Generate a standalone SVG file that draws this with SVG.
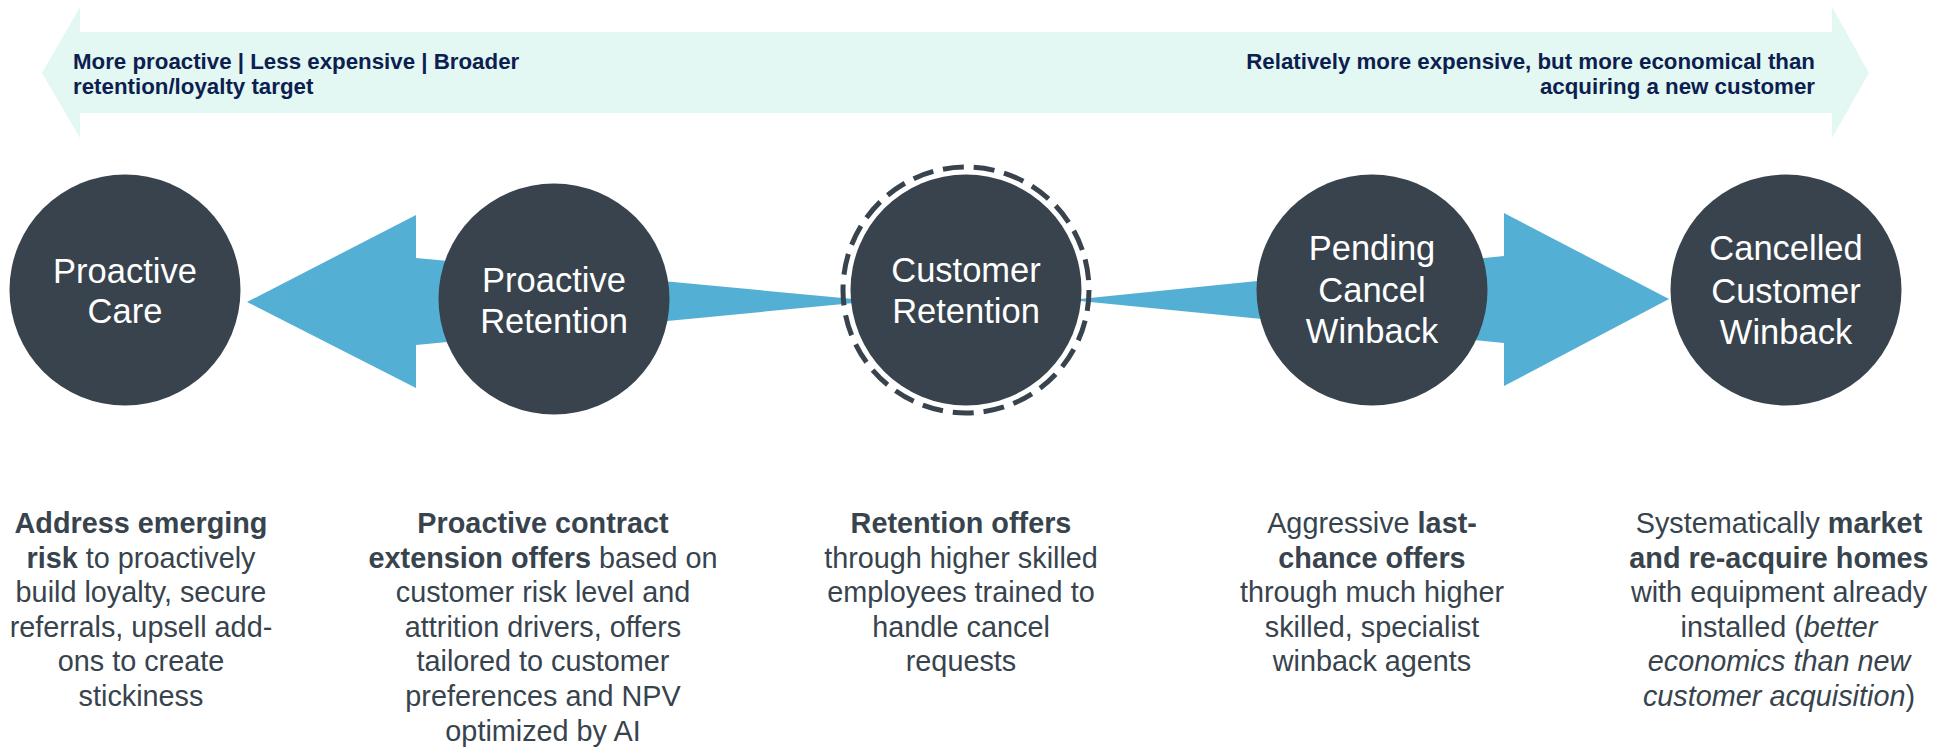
<svg xmlns="http://www.w3.org/2000/svg" width="1934" height="752" viewBox="0 0 1934 752">
<style>
.band{fill:#e3f7f3}
.hdr{font-family:"Liberation Sans",Arial,sans-serif;font-size:22.3px;font-weight:bold;fill:#0c2050}
.node{fill:#38434d}
.lbl{font-family:"Liberation Sans",Arial,sans-serif;font-size:34.5px;fill:#ffffff;text-anchor:middle}
.wedge{fill:#53afd3}
.ring{fill:none;stroke:#38434d;stroke-width:5;stroke-dasharray:21 9.9}
.desc{font-family:"Liberation Sans",Arial,sans-serif;font-size:28.8px;fill:#37434d;text-anchor:middle}
.b{font-weight:bold}
.i{font-style:italic}
</style>
<rect width="1934" height="752" fill="#ffffff"/>
<g id="scale-band">
<polygon class="band" points="42,73 80,7 80,32 1832,32 1832,7 1869,73 1832,138 1832,113 80,113 80,138"/>
<text class="hdr" x="73" y="69">More proactive | Less expensive | Broader</text>
<text class="hdr" x="73" y="94">retention/loyalty target</text>
<text class="hdr" x="1815" y="69" text-anchor="end">Relatively more expensive, but more economical than</text>
<text class="hdr" x="1815" y="94" text-anchor="end">acquiring a new customer</text>
</g>
<g id="connectors">
<polygon class="wedge" points="247,302 416,215 416,258 875,301 416,345 416,388"/>
<polygon class="wedge" points="1669,299 1504,386 1504,343 1070,300 1504,256 1504,213"/>
</g>
<g id="proactive-care">
<circle class="node" cx="125" cy="290" r="115.5"/>
<text class="lbl" x="125" y="283">Proactive</text>
<text class="lbl" x="125" y="323">Care</text>
</g>
<g id="proactive-retention">
<circle class="node" cx="554" cy="299" r="115.5"/>
<text class="lbl" x="554" y="292">Proactive</text>
<text class="lbl" x="554" y="333">Retention</text>
</g>
<g id="customer-retention">
<circle class="ring" cx="966" cy="290" r="123"/>
<circle class="node" cx="966" cy="290" r="115.5"/>
<text class="lbl" x="966" y="282">Customer</text>
<text class="lbl" x="966" y="323">Retention</text>
</g>
<g id="pending-cancel-winback">
<circle class="node" cx="1372" cy="290" r="115.5"/>
<text class="lbl" x="1372" y="260">Pending</text>
<text class="lbl" x="1372" y="302">Cancel</text>
<text class="lbl" x="1372" y="343">Winback</text>
</g>
<g id="cancelled-customer-winback">
<circle class="node" cx="1786" cy="290" r="115.5"/>
<text class="lbl" x="1786" y="260">Cancelled</text>
<text class="lbl" x="1786" y="303">Customer</text>
<text class="lbl" x="1786" y="344">Winback</text>
</g>
<g id="desc-proactive-care">
<text class="desc" x="141" y="533"><tspan class="b">Address emerging</tspan></text>
<text class="desc" x="141" y="567.6"><tspan class="b">risk</tspan> to proactively</text>
<text class="desc" x="141" y="602.2">build loyalty, secure</text>
<text class="desc" x="141" y="636.8">referrals, upsell add-</text>
<text class="desc" x="141" y="671.4">ons to create</text>
<text class="desc" x="141" y="706">stickiness</text>
</g>
<g id="desc-proactive-retention">
<text class="desc" x="543" y="533"><tspan class="b">Proactive contract</tspan></text>
<text class="desc" x="543" y="567.6"><tspan class="b">extension offers</tspan> based on</text>
<text class="desc" x="543" y="602.2">customer risk level and</text>
<text class="desc" x="543" y="636.8">attrition drivers, offers</text>
<text class="desc" x="543" y="671.4">tailored to customer</text>
<text class="desc" x="543" y="706">preferences and NPV</text>
<text class="desc" x="543" y="740.6">optimized by AI</text>
</g>
<g id="desc-customer-retention">
<text class="desc" x="961" y="533"><tspan class="b">Retention offers</tspan></text>
<text class="desc" x="961" y="567.6">through higher skilled</text>
<text class="desc" x="961" y="602.2">employees trained to</text>
<text class="desc" x="961" y="636.8">handle cancel</text>
<text class="desc" x="961" y="671.4">requests</text>
</g>
<g id="desc-pending-cancel-winback">
<text class="desc" x="1372" y="533">Aggressive <tspan class="b">last-</tspan></text>
<text class="desc" x="1372" y="567.6"><tspan class="b">chance offers</tspan></text>
<text class="desc" x="1372" y="602.2">through much higher</text>
<text class="desc" x="1372" y="636.8">skilled, specialist</text>
<text class="desc" x="1372" y="671.4">winback agents</text>
</g>
<g id="desc-cancelled-customer-winback">
<text class="desc" x="1779" y="533">Systematically <tspan class="b">market</tspan></text>
<text class="desc" x="1779" y="567.6"><tspan class="b">and re-acquire homes</tspan></text>
<text class="desc" x="1779" y="602.2">with equipment already</text>
<text class="desc" x="1779" y="636.8">installed (<tspan class="i">better</tspan></text>
<text class="desc" x="1779" y="671.4"><tspan class="i">economics than new</tspan></text>
<text class="desc" x="1779" y="706"><tspan class="i">customer acquisition</tspan>)</text>
</g>
</svg>
